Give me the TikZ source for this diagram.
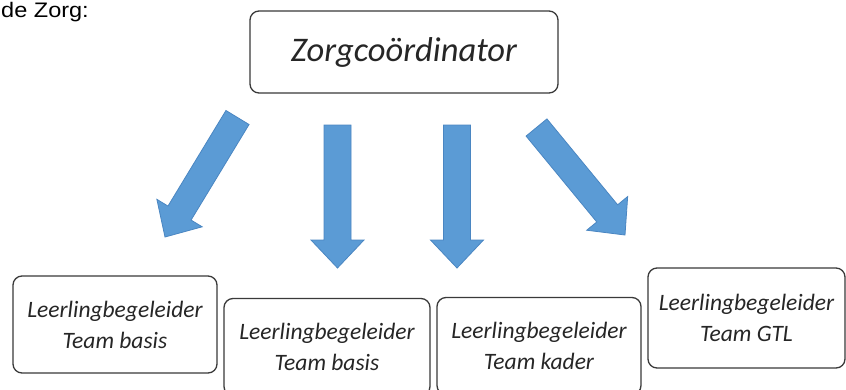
\documentclass[tikz,border=0pt]{standalone}
\usepackage{fontspec}
\setmainfont{Carlito}
\newfontfamily\titlefont{Liberation Sans}
\usetikzlibrary{calc}
\definecolor{arrowblue}{HTML}{5B9BD5}
\definecolor{arrowedge}{HTML}{4A86C2}
\definecolor{boxline}{HTML}{3A3A3A}
\definecolor{boxtext}{HTML}{262626}
\tikzset{
  roundbox/.style={draw=boxline, line width=1.3pt, rounded corners=9pt, fill=white,
    text=boxtext, inner sep=0pt},
  topbox/.style={roundbox, minimum width=308pt, minimum height=82pt,
    font=\fontsize{34.5}{40}\selectfont\itshape},
  leafbox/.style={roundbox, align=center, minimum height=97pt,
    font=\fontsize{23.5}{31}\selectfont\itshape},
  blockarrow/.style={fill=arrowblue, draw=arrowedge, line width=0.8pt, line join=miter}
}
\newcommand\blkarrow[2]{%
  \coordinate (#1b) at ($(#2)!28pt!(#1)$);
  \filldraw[blockarrow] ($(#1)!13.5pt!90:(#2)$) -- ($(#1b)!13.5pt!90:(#2)$)
    -- ($(#1b)!26.5pt!90:(#2)$) -- (#2) -- ($(#1b)!26.5pt!-90:(#2)$)
    -- ($(#1b)!13.5pt!-90:(#2)$) -- ($(#1)!13.5pt!-90:(#2)$) -- cycle;
}
\begin{document}
\begin{tikzpicture}[x=1pt,y=-1pt]
\useasboundingbox (0,0) rectangle (846,389);
\clip (0,0) rectangle (846,389);
\fill[white] (0,0) rectangle (846,389);

\node[anchor=base west, xscale=1.12, font=\titlefont\fontsize{21}{24}\selectfont, text=black, inner sep=0pt]
  (title) at (1,17) {de Zorg:};

\node[topbox] (zc) at (404,52) {Zorgcoördinator};

\node[leafbox, minimum width=204pt] (b1) at (115,324.5) {Leerlingbegeleider\\Team basis};
\node[leafbox, minimum width=206pt] (b2) at (327,347) {Leerlingbegeleider\\Team basis};
\node[leafbox, minimum width=204pt] (b3) at (539,346) {Leerlingbegeleider\\Team kader};
\node[leafbox, minimum width=197pt, minimum height=100pt] (b4) at (746.5,318) {Leerlingbegeleider\\Team GTL};

\coordinate (s1) at (237.5,117.5); \coordinate (t1) at (165,237);
\coordinate (s2) at (337.5,125);   \coordinate (t2) at (337.5,268);
\coordinate (s3) at (457,125);     \coordinate (t3) at (457,268);
\coordinate (s4) at (536.5,127.5); \coordinate (t4) at (625,235);
\blkarrow{s1}{t1}
\blkarrow{s2}{t2}
\blkarrow{s3}{t3}
\blkarrow{s4}{t4}
\end{tikzpicture}
\end{document}
